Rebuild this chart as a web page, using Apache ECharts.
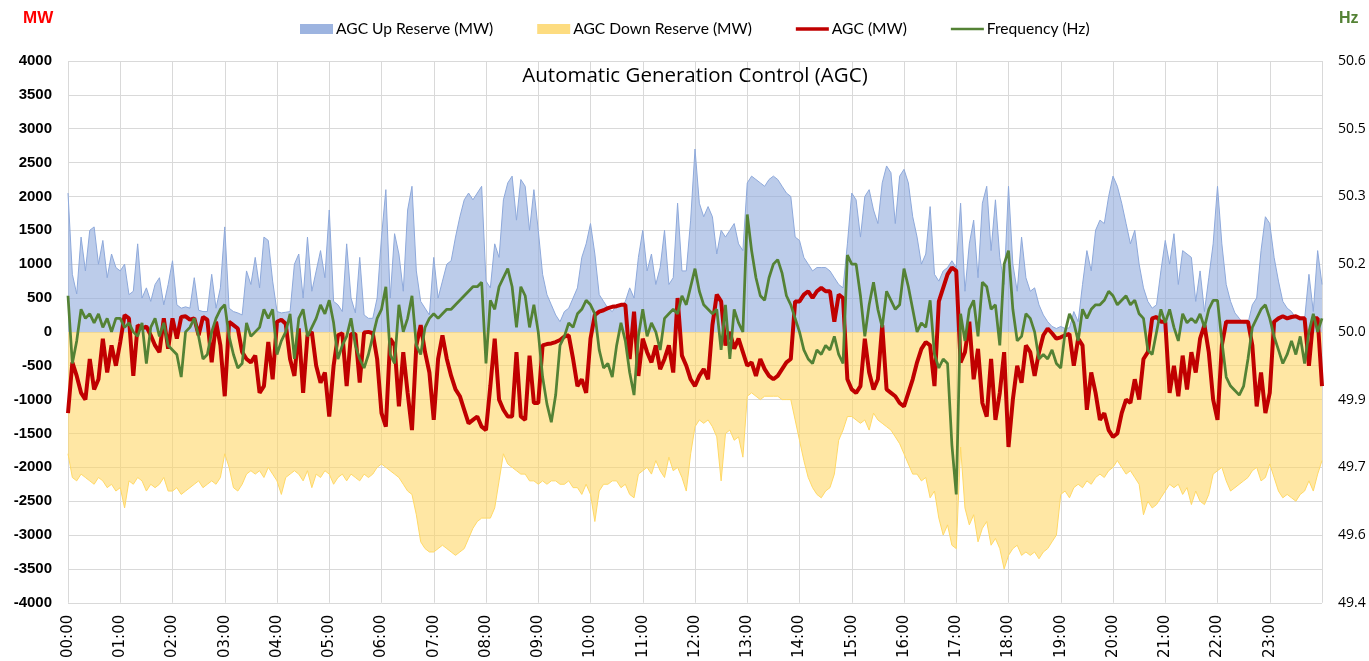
<!DOCTYPE html>
<html><head><meta charset="utf-8">
<script src="https://cdn.jsdelivr.net/npm/echarts@6/dist/echarts.min.js"></script>
<style>html,body{margin:0;padding:0;background:#fff}#c{width:1369px;height:661px}</style>
</head><body><div id="c"></div>
<script>
// 5-minute samples from 00:00 to 24:00 (12 per hour + final point)
const upReserve = [
 2050, 850, 560, 1400, 900, 1500, 1550, 1000, 1350, 800, 1150, 950,
 900, 1000, 550, 600, 1300, 500, 650, 450, 700, 800, 400, 700,
 1050, 400, 350, 370, 350, 800, 320, 300, 300, 850, 350, 650,
 1550, 350, 300, 280, 250, 900, 700, 1100, 650, 1400, 1350, 750,
 300, 280, 290, 300, 1000, 1150, 500, 1400, 600, 900, 1200, 800,
 1800, 450, 400, 300, 1300, 500, 280, 1100, 250, 200, 200, 500,
 1400, 2100, 500, 1450, 1150, 600, 1800, 2150, 900, 450, 350, 250,
 1100, 500, 750, 1000, 1050, 1400, 1700, 1950, 2050, 1950, 2050, 2150,
 750, 650, 1300, 1100, 1950, 2200, 2300, 1650, 2250, 2150, 1500, 2100,
 1500, 850, 550, 400, 250, 150, 300, 350, 500, 650, 1100, 1300,
 1600, 1150, 550, 450, 350, 300, 400, 380, 450, 650, 500, 1100,
 1500, 900, 1150, 700, 950, 1500, 700, 800, 1900, 900, 900, 1650,
 2700, 1900, 1700, 1850, 1700, 1150, 1500, 1400, 1500, 1600, 1300, 1200,
 2200, 2300, 2250, 2200, 2150, 2250, 2300, 2250, 2150, 2050, 2000, 1400,
 1350, 1100, 1000, 900, 950, 950, 950, 900, 800, 700, 650, 1300,
 2050, 1950, 1400, 2000, 2100, 1800, 1600, 2200, 2450, 2350, 1600, 2300,
 2400, 2200, 1700, 1400, 1000, 1150, 1850, 850, 750, 900, 950, 1050,
 950, 1900, 600, 1300, 1650, 800, 1900, 2150, 1200, 1950, 1100, 700,
 2150, 1000, 600, 1400, 800, 600, 650, 400, 250, 150, 80, 50,
 80, 50, 60, 300, 150, 700, 1200, 900, 1500, 1650, 1600, 2000,
 2300, 2150, 1900, 1600, 1300, 1500, 1000, 650, 450, 350, 400, 900,
 1350, 1000, 1450, 700, 1200, 1150, 1100, 450, 900, 300, 800, 1300,
 2150, 1300, 700, 450, 280, 200, 120, 130, 400, 500, 1200, 1700,
 1600, 1100, 750, 450, 350, 300, 200, 170, 180, 850, 300, 1200,
 700
];
const downReserve = [
 -1800, -2150, -2200, -2100, -2150, -2200, -2250, -2150, -2200, -2300, -2250, -2350,
 -2300, -2600, -2200, -2250, -2150, -2200, -2350, -2250, -2300, -2250, -2150, -2350,
 -2350, -2300, -2400, -2350, -2300, -2250, -2200, -2300, -2250, -2200, -2250, -2150,
 -1800, -2000, -2300, -2350, -2250, -2100, -2050, -2100, -2050, -2150, -2000, -2100,
 -2200, -2400, -2150, -2100, -2050, -2100, -2200, -2050, -2300, -2100, -2150, -2050,
 -2100, -2250, -2150, -2100, -2200, -2100, -2150, -2200, -2100, -2150, -2100, -2000,
 -1950, -2000, -2050, -2100, -2150, -2250, -2350, -2400, -2700, -3100, -3200, -3250,
 -3250, -3200, -3150, -3200, -3250, -3300, -3250, -3200, -3050, -2900, -2800, -2750,
 -2750, -2750, -2600, -2200, -1800, -1950, -2000, -2050, -2100, -2100, -2200, -2200,
 -2250, -2200, -2250, -2200, -2200, -2250, -2250, -2200, -2300, -2300, -2400, -2250,
 -2400, -2800, -2350, -2250, -2250, -2200, -2200, -2300, -2250, -2400, -2450, -2100,
 -2050, -2000, -2100, -1900, -2050, -2150, -1850, -2050, -2000, -2150, -2350, -1800,
 -1400, -1300, -1350, -1300, -1400, -1550, -2200, -1500, -1450, -1600, -1550, -1850,
 -950, -900, -950, -1000, -950, -950, -950, -950, -1000, -1000, -1000, -1300,
 -1600, -1900, -2150, -2300, -2400, -2450, -2350, -2300, -2100, -1600, -1450, -1250,
 -1250, -1300, -1350, -1300, -1450, -1200, -1300, -1350, -1400, -1450, -1550, -1650,
 -1800, -1950, -2100, -2100, -2200, -2150, -2450, -2350, -2750, -3000, -2850, -3150,
 -3200, -1700, -2600, -2850, -2700, -3100, -2900, -2800, -3150, -3050, -3200, -3500,
 -3300, -3200, -3150, -3300, -3250, -3300, -3250, -3350, -3250, -3200, -3100, -3000,
 -2400, -2350, -2450, -2300, -2250, -2300, -2200, -2250, -2150, -2100, -2150, -2050,
 -2000, -1900, -2000, -2100, -2050, -2150, -2250, -2700, -2500, -2600, -2550, -2450,
 -2350, -2250, -2300, -2250, -2400, -2300, -2550, -2350, -2500, -2550, -2400, -2100,
 -2050, -2000, -2200, -2350, -2300, -2250, -2200, -2150, -2050, -2000, -2200, -2150,
 -1950, -2150, -2350, -2450, -2400, -2450, -2500, -2400, -2350, -2200, -2350, -2100,
 -1900
];
const agc = [
 -1200, -450, -650, -900, -1000, -400, -850, -700, -100, -600, -200, -500,
 -150, 250, 200, -650, 100, 50, 80, -50, -200, -300, 200, -250,
 200, -100, 220, 230, 180, 200, -50, 220, 180, -450, 150, -200,
 -950, 150, 100, 50, -300, -400, -450, -350, -900, -800, -150, -700,
 150, 180, 120, -400, -650, 50, -900, -50, 0, -500, -750, -600,
 -1250, -500, -50, -20, -800, -30, -30, -750, -10, 0, -20, -400,
 -1200, -1400, -100, -200, -1100, -300, -900, -1450, -200, 100, -300, -600,
 -1300, -400, -50, -400, -650, -850, -950, -1150, -1350, -1300, -1250, -1400,
 -1450, -800, -100, -1000, -1150, -1250, -1250, -300, -1250, -1300, -350, -1050,
 -1050, -200, -180, -170, -150, -120, -70, -50, -400, -800, -700, -900,
 -100, 250, 300, 320, 350, 370, 380, 400, 400, -400, 300, -650,
 -100, -300, -450, -200, -550, -400, -200, -600, 500, -350, -500, -700,
 -800, -650, -550, -700, 100, 550, 450, -200, 0, -250, -100, -300,
 -500, -450, -650, -400, -550, -650, -700, -650, -550, -450, -400, 450,
 450, 550, 600, 500, 600, 650, 600, 600, 150, 550, 500, -700,
 -850, -900, -800, -100, -600, -850, -700, 100, -850, -900, -950, -1050,
 -1100, -900, -700, -450, -250, -150, -200, -800, 450, 650, 850, 950,
 900, -450, -300, 150, -700, -250, -1050, -1250, -400, -1300, -900, -300,
 -1700, -1000, -500, -750, -200, -300, -650, -300, -50, 50, -20, -100,
 -80, -50, -30, -500, -100, -200, -1150, -600, -900, -1300, -1200, -1450,
 -1550, -1500, -1200, -1000, -1050, -700, -1000, -400, -300, 200, 220, 150,
 150, -900, -500, -950, -350, -850, -300, -600, -100, 100, -300, -1000,
 -1300, -200, 150, 150, 150, 150, 150, 150, -200, -1100, -600, -1200,
 -900, 150, 200, 230, 200, 220, 230, 200, 200, -500, 200, 200,
 -800
];
const frequency = [
 50.08, 49.93, 49.98, 50.05, 50.03, 50.04, 50.02, 50.04, 50.01, 50.03, 50.00, 50.03,
 50.03, 50.01, 50.02, 50.00, 49.99, 50.02, 49.93, 50.01, 50.03, 49.99, 50.02, 49.97,
 49.96, 49.95, 49.90, 50.00, 50.01, 50.03, 49.99, 49.94, 49.95, 50.00, 50.03, 50.05,
 50.06, 49.99, 49.95, 49.92, 49.93, 50.02, 49.99, 50.00, 50.01, 50.05, 50.03, 50.05,
 49.95, 49.98, 50.00, 50.04, 49.94, 50.03, 50.05, 49.99, 50.01, 50.03, 50.06, 50.04,
 50.07, 50.02, 49.94, 49.97, 49.99, 50.03, 49.97, 49.94, 49.92, 49.95, 49.99, 50.03,
 50.05, 50.10, 49.95, 49.93, 50.06, 50.00, 50.03, 50.08, 49.97, 49.95, 50.01, 50.03,
 50.04, 50.03, 50.04, 50.05, 50.05, 50.06, 50.07, 50.08, 50.09, 50.10, 50.10, 50.11,
 49.93, 50.07, 50.05, 50.10, 50.12, 50.14, 50.10, 50.01, 50.10, 50.08, 50.01, 50.06,
 50.00, 49.90, 49.84, 49.80, 49.86, 49.97, 49.99, 50.02, 50.01, 50.04, 50.05, 50.07,
 50.06, 50.04, 49.96, 49.92, 49.93, 49.90, 49.97, 50.02, 49.98, 49.91, 49.86, 49.99,
 50.05, 49.99, 50.02, 50.00, 49.96, 50.03, 50.04, 50.05, 50.04, 50.08, 50.06, 50.10,
 50.14, 50.09, 50.06, 50.05, 50.04, 50.05, 49.96, 50.06, 49.94, 50.05, 50.02, 50.00,
 50.26, 50.18, 50.12, 50.08, 50.07, 50.12, 50.15, 50.16, 50.13, 50.08, 50.06, 50.03,
 50.00, 49.96, 49.94, 49.93, 49.96, 49.95, 49.97, 49.96, 49.99, 49.95, 49.93, 50.17,
 50.15, 50.15, 50.08, 49.99, 50.06, 50.11, 50.05, 50.01, 50.09, 50.07, 50.05, 50.06,
 50.14, 50.10, 50.05, 50.00, 50.02, 50.01, 50.07, 49.95, 49.92, 49.94, 49.93, 49.75,
 49.64, 50.04, 49.98, 50.05, 50.07, 49.99, 50.11, 50.10, 50.05, 50.06, 49.97, 50.15,
 50.18, 50.05, 49.98, 49.99, 50.04, 50.03, 50.00, 49.94, 49.95, 49.94, 49.96, 49.93,
 49.92, 50.00, 50.04, 50.02, 49.98, 50.05, 50.03, 50.05, 50.06, 50.06, 50.07, 50.09,
 50.08, 50.06, 50.07, 50.08, 50.06, 50.07, 50.04, 50.03, 49.96, 49.95, 50.00, 50.05,
 50.02, 50.05, 50.01, 49.98, 50.04, 50.02, 50.03, 50.02, 50.04, 50.01, 50.05, 50.07,
 50.07, 49.98, 49.90, 49.88, 49.87, 49.86, 49.88, 49.94, 50.01, 50.03, 50.05, 50.06,
 50.03, 49.99, 49.96, 49.93, 49.95, 49.98, 49.95, 49.99, 49.93, 50.00, 50.04, 50.00,
 50.03
];
const hzTickValues = [49.4, 49.55, 49.7, 49.85, 50.0, 50.15, 50.3, 50.45, 50.6];
const hzTickLabels = ['49.4', '49.6', '49.7', '49.9', '50.0', '50.2', '50.3', '50.5', '50.6'];
const hourLabels = ['00:00','01:00','02:00','03:00','04:00','05:00','06:00','07:00','08:00','09:00','10:00','11:00',
 '12:00','13:00','14:00','15:00','16:00','17:00','18:00','19:00','20:00','21:00','22:00','23:00'];
const seriesNames = ['AGC Up Reserve (MW)', 'AGC Down Reserve (MW)', 'AGC (MW)', 'Frequency (Hz)'];
const stepMinutes = 5;

const toPairs = arr => arr.map((v, i) => [i * stepMinutes, v]);
const chart = echarts.init(document.getElementById('c'), null, {renderer: 'canvas'});
chart.setOption({
  animation: false,
  backgroundColor: '#ffffff',
  title: {
    text: 'Automatic Generation Control (AGC)',
    left: 695, top: 66, textAlign: 'center', padding: 0,
    textStyle: {fontFamily: 'Open Sans', fontSize: 20.5, fontWeight: 'normal', color: '#000'}
  },
  legend: {
    left: 300, top: 21, padding: 0, itemWidth: 33, itemHeight: 10, itemGap: 44,
    itemStyle: {borderWidth: 0},
    textStyle: {fontFamily: 'Lato', fontSize: 15.6, color: '#000', padding: [0, 0, 0, -2]},
    data: [
      {name: seriesNames[0], icon: 'rect'},
      {name: seriesNames[1], icon: 'rect'},
      {name: seriesNames[2], icon: 'path://M0,0H33V3.5H0Z'},
      {name: seriesNames[3], icon: 'path://M0,0H33V2.5H0Z'}
    ]
  },
  grid: {left: 68, right: 47, top: 61, bottom: 50},
  xAxis: {
    type: 'value', min: 0, max: 1440, interval: 60,
    axisLine: {show: false}, axisTick: {show: false},
    splitLine: {show: true, lineStyle: {color: '#D9D9D9', width: 1}},
    axisLabel: {
      rotate: 90, margin: 12, color: '#000', fontFamily: 'DejaVu Sans', fontSize: 15,
      formatter: v => (v % 60 === 0 && v / 60 < hourLabels.length) ? hourLabels[v / 60] : ''
    }
  },
  yAxis: [
    {
      type: 'value', min: -4000, max: 4000, interval: 500,
      axisLine: {show: false}, axisTick: {show: false},
      splitLine: {show: true, lineStyle: {color: '#D9D9D9', width: 1}},
      axisLabel: {margin: 16, color: '#000', fontFamily: 'Liberation Sans', fontWeight: 'bold', fontSize: 15,
        formatter: v => String(v)}
    },
    {
      type: 'value', min: 49.4, max: 50.6,
      axisLine: {show: false}, axisTick: {show: false}, splitLine: {show: false},
      axisLabel: {
        margin: 16, color: '#000', fontFamily: 'Open Sans', fontSize: 14,
        customValues: hzTickValues,
        formatter: v => {
          let best = 0;
          hzTickValues.forEach((t, i) => { if (Math.abs(t - v) < Math.abs(hzTickValues[best] - v)) best = i; });
          return hzTickLabels[best];
        }
      }
    }
  ],
  graphic: [
    {type: 'text', left: 23, top: 10, style: {text: 'MW', fill: '#FF0000', font: 'bold 17px "Liberation Sans"'}},
    {type: 'text', left: 1339, top: 11, style: {text: 'Hz', fill: '#548235', font: 'bold 16px "Liberation Sans"'}}
  ],
  series: [
    {
      name: seriesNames[0], type: 'line', yAxisIndex: 0, data: toPairs(upReserve),
      showSymbol: false, color: '#9DB4E0',
      lineStyle: {width: 1, color: '#8EA9DB'},
      areaStyle: {color: 'rgba(143,170,220,0.85)'}, z: 1
    },
    {
      name: seriesNames[1], type: 'line', yAxisIndex: 0, data: toPairs(downReserve),
      showSymbol: false, color: '#FDDC80',
      lineStyle: {width: 1, color: '#FFD966'},
      areaStyle: {color: 'rgba(255,213,98,0.83)'}, z: 1
    },
    {
      name: seriesNames[2], type: 'line', yAxisIndex: 0, data: toPairs(agc),
      showSymbol: false, color: '#C00000',
      lineStyle: {width: 4, color: '#C00000'}, z: 3
    },
    {
      name: seriesNames[3], type: 'line', yAxisIndex: 1, data: toPairs(frequency),
      showSymbol: false, color: '#548235',
      lineStyle: {width: 2.75, color: '#548235'}, z: 4
    }
  ]
});
</script>
</body></html>
